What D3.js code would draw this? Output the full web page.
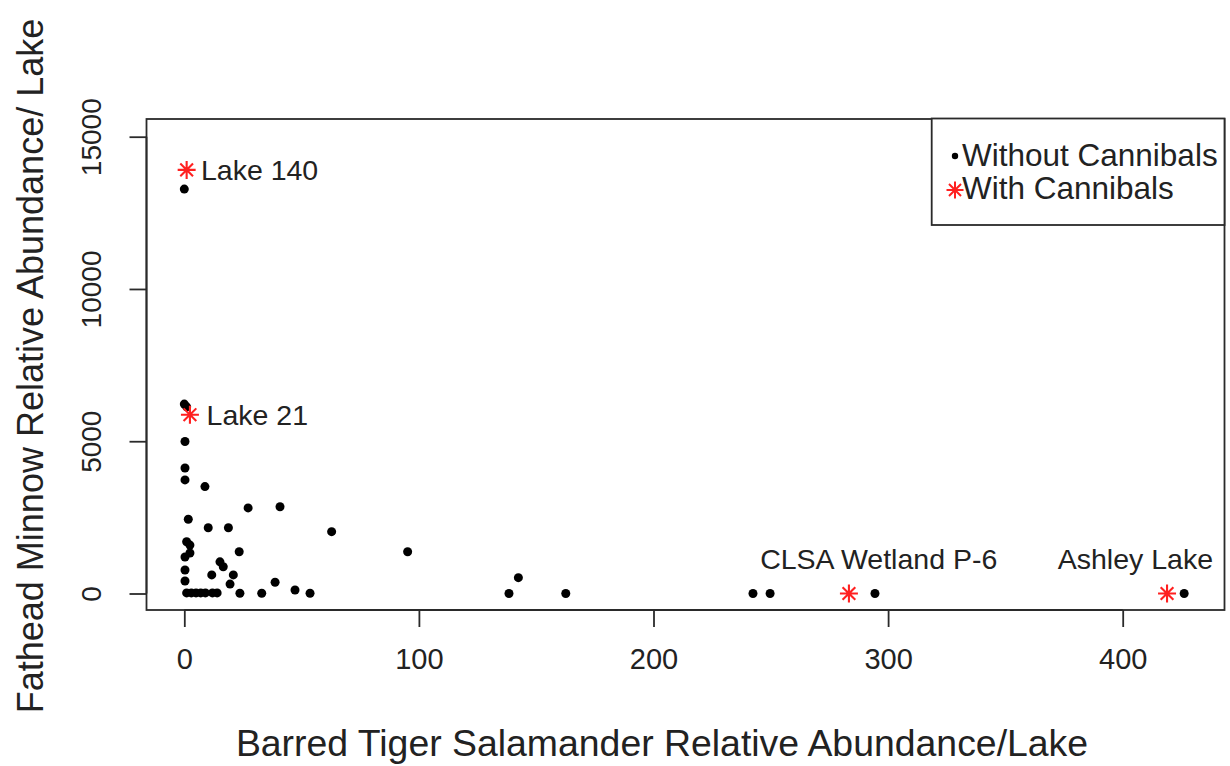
<!DOCTYPE html>
<html>
<head>
<meta charset="utf-8">
<script src="https://cdn.jsdelivr.net/npm/d3@7"></script>
<style>
  html, body { margin: 0; padding: 0; background: #fff; }
  text { font-family: "Liberation Sans", Arial, sans-serif; fill: #222; }
</style>
</head>
<body>
<svg id="chart" width="1230" height="766"></svg>
<script>
// ---- data ----
const withoutX = [0, 0, 1, 0.3, 0.3, 0.3, 8.8, 27.2, 40.8, 62.8, 1.7, 10.2, 18.8, 1, 2.4, 23.4, 2.4, 0.3,
  15.2, 16.6, 0.3, 11.7, 20.9, 0.3, 19.5, 38.7, 47.2, 53.6, 1, 3, 5, 7, 9, 12, 14, 23.7, 33,
  95.2, 142.4, 138.4, 162.6, 242.4, 249.7, 294.4, 426.2];
const withoutY = [13280, 6220, 6130, 4990, 4120, 3730, 3510, 2810, 2850, 2030, 2440, 2160, 2160, 1700, 1590, 1370, 1330, 1200,
  1040, 880, 770, 610, 610, 410, 310, 370, 115, 10, 20, 20, 20, 20, 20, 20, 20, 10, 10,
  1370, 520, 0, 0, 0, 0, 0, 0];
const withX = [1, 2.4, 283.3, 418.9];
const withY = [13910, 5870, 0, 0];
const labelText = ["Lake 140", "Lake 21", "CLSA Wetland P-6", "Ashley Lake"];
const labelX = [7.1, 9.5, 296, 405.4];
const labelY = [13910, 5870, 1133, 1133];
const labelAnchor = ["start", "start", "middle", "middle"];
const xTicks = [0, 100, 200, 300, 400];
const yTicks = [0, 5000, 10000, 15000];
const legendLabels = ["Without Cannibals", "With Cannibals"];
const xTitle = "Barred Tiger Salamander Relative Abundance/Lake";
const yTitle = "Fathead Minnow Relative Abundance/ Lake";

// ---- layout ----
const svg = d3.select("#chart");
const box = { left: 146.5, right: 1224.5, top: 119, bottom: 610 };
const x = d3.scaleLinear().domain([0, 400]).range([184.3, 1122.7]);
const y = d3.scaleLinear().domain([0, 15000]).range([593.5, 136.7]);
const ink = "#222";

// plot frame
svg.append("rect")
  .attr("x", box.left).attr("y", box.top)
  .attr("width", box.right - box.left).attr("height", box.bottom - box.top)
  .attr("fill", "none").attr("stroke", "#2a2a2a").attr("stroke-width", 1.8);

// x axis
const xAxis = d3.axisBottom(x).tickValues(xTicks).tickSize(17).tickPadding(21).tickFormat(d3.format("d"));
const gx = svg.append("g").attr("transform", `translate(0,${box.bottom})`).call(xAxis);
gx.select(".domain").attr("stroke", "#2a2a2a").attr("stroke-width", 1.8).attr("d", `M${x(0)},0H${x(400)}`);
gx.selectAll(".tick line").attr("stroke", "#2a2a2a").attr("stroke-width", 1.8);
gx.selectAll(".tick text").attr("font-size", 29).attr("fill", ink)
  .attr("font-family", "Liberation Sans, Arial, sans-serif");

// y axis
const yAxis = d3.axisLeft(y).tickValues(yTicks).tickSize(17).tickFormat(d3.format("d"));
const gy = svg.append("g").attr("transform", `translate(${box.left},0)`).call(yAxis);
gy.select(".domain").attr("stroke", "#2a2a2a").attr("stroke-width", 1.8).attr("d", `M0,${y(0)}V${y(15000)}`);
gy.selectAll(".tick line").attr("stroke", "#2a2a2a").attr("stroke-width", 1.8);
gy.selectAll(".tick text")
  .attr("font-size", 28).attr("fill", ink)
  .attr("font-family", "Liberation Sans, Arial, sans-serif")
  .attr("text-anchor", "middle").attr("dy", 0).attr("x", 0).attr("y", 0)
  .attr("transform", "translate(-46,0) rotate(-90)");

// axis titles
svg.append("text").attr("x", 662).attr("y", 756).attr("text-anchor", "middle")
  .attr("font-size", 37.4).text(xTitle);
svg.append("text").attr("transform", "translate(43,366) rotate(-90)").attr("text-anchor", "middle")
  .attr("font-size", 36).text(yTitle);

// points without cannibals
svg.append("g").selectAll("circle").data(withoutX.map((d, i) => [d, withoutY[i]])).join("circle")
  .attr("cx", d => x(d[0])).attr("cy", d => y(d[1])).attr("r", 4.5).attr("fill", "#000");

// asterisk helper
function star(g, cx, cy, r, color, sw) {
  const a = r * Math.SQRT1_2;
  const p = `M${cx - r},${cy}H${cx + r}M${cx},${cy - r}V${cy + r}M${cx - a},${cy - a}L${cx + a},${cy + a}M${cx - a},${cy + a}L${cx + a},${cy - a}`;
  g.append("path").attr("d", p).attr("stroke", color).attr("stroke-width", sw).attr("fill", "none");
}
const gs = svg.append("g");
withX.forEach((d, i) => star(gs, x(d), y(withY[i]), 9, "#ff2020", 2.1));

// labels
svg.append("g").selectAll("text").data(labelText).join("text")
  .attr("x", (d, i) => x(labelX[i])).attr("y", (d, i) => y(labelY[i]))
  .attr("dy", "0.36em").attr("text-anchor", (d, i) => labelAnchor[i])
  .attr("font-size", 28.5).text(d => d);

// legend
const lg = svg.append("g");
lg.append("rect").attr("x", 931.7).attr("y", 118.5).attr("width", 1224.5 - 931.7).attr("height", 225 - 118.5)
  .attr("fill", "#fff").attr("stroke", "#2a2a2a").attr("stroke-width", 1.8);
lg.append("circle").attr("cx", 955).attr("cy", 156).attr("r", 3.2).attr("fill", "#000");
star(lg, 955, 190, 8.5, "#ff2020", 2);
lg.selectAll("text.leg").data(legendLabels).join("text").attr("class", "leg")
  .attr("x", 962).attr("y", (d, i) => 166 + i * 33)
  .attr("font-size", 31.5).text(d => d);
</script>
</body>
</html>
